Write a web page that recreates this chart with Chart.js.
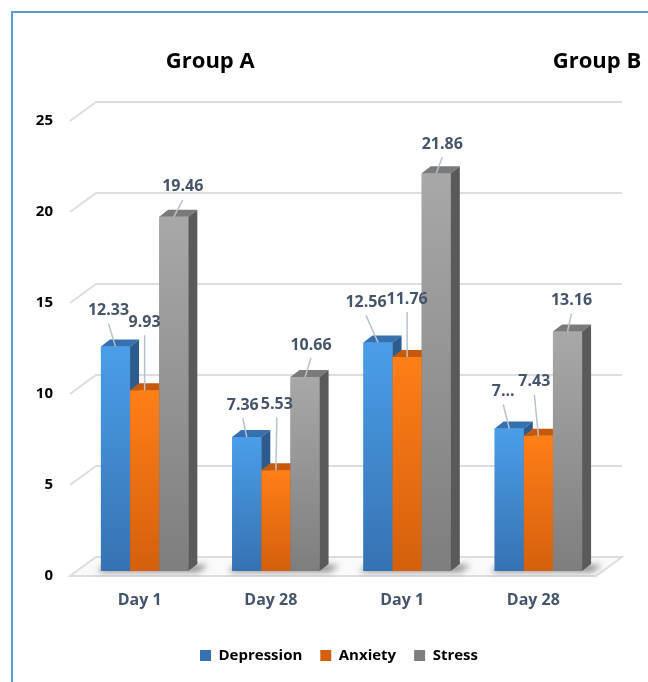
<!DOCTYPE html>
<html>
<head>
<meta charset="utf-8">
<title>Depression, Anxiety and Stress</title>
<script src="https://cdn.jsdelivr.net/npm/chart.js@4.4.1/dist/chart.umd.min.js"></script>
<style>
  html, body { margin: 0; padding: 0; background: #fff; }
  #wrap { position: relative; width: 648px; height: 682px; overflow: hidden; }
  #frame {
    position: absolute; left: 11px; top: 11px; right: -4px; bottom: -4px;
    border-left: 2px solid #5B9BD5; border-top: 2px solid #5B9BD5;
    pointer-events: none;
  }
  canvas { position: absolute; left: 0; top: 0; }
</style>
</head>
<body>
<div id="wrap">
  <canvas id="scoresChart" width="648" height="682"></canvas>
  <div id="frame"></div>
</div>
<script>
// chart data
const categories = ["Day 1", "Day 28", "Day 1", "Day 28"];
const groupNames = ["Group A", "Group B"];
const depression = [12.33, 7.36, 12.56, 7.83];
const anxiety = [9.93, 5.53, 11.76, 7.43];
const stress = [19.46, 10.66, 21.86, 13.16];
const yTicks = [0, 5, 10, 15, 20, 25];

// the original chart cut one label short
const shownText = { "0-3": "7..." };

const FONT = "'Open Sans', Lato, sans-serif";
const DEPTH_X = 9;
const DEPTH_Y = -7;

// face colours: front gradient top/bottom, top face, side face
const faces = [
  { top: "#4A9EE9", bottom: "#3672B2", lid: "#3471AE", side: "#2C5C8E" },
  { top: "#FF7E17", bottom: "#D4600D", lid: "#C75A0A", side: "#AA4D07" },
  { top: "#A8A8A8", bottom: "#7E7E7E", lid: "#7A7A7A", side: "#5A5A5A" },
];

// label nudges (px from the top-centre of each bar front)
const labelNudge = [
  [[-7, -36], [-4, -32], [-12, -40], [-6, -37]],
  [[0, -68], [1, -66], [0, -58], [-4, -54]],
  [[9, -30], [6, -32], [6, -29], [4, -31]],
];

// gradient runs from the bar's own top to the baseline
function frontGradient(c, i) {
  const y = c.chart.scales.y;
  if (!y || c.raw == null) return faces[i].top;
  const top = y.getPixelForValue(c.raw);
  const base = y.getPixelForValue(0);
  const g = c.chart.ctx.createLinearGradient(0, top, 0, base);
  g.addColorStop(0, faces[i].top);
  g.addColorStop(1, faces[i].bottom);
  return g;
}

const wallsPlugin = {
  id: "walls",
  // back wall gridlines, left wall and floor
  beforeDatasetsDraw(chart) {
    const { ctx, chartArea, scales } = chart;
    const y = scales.y;
    const fx = -9, fy = 5, bx = 17, by = -14, rx = 18;
    ctx.save();
    ctx.strokeStyle = "#DADEE4";
    ctx.lineWidth = 2;

    const b0 = y.getPixelForValue(0);
    ctx.beginPath();
    ctx.moveTo(chartArea.left + fx, b0 + fy);
    ctx.lineTo(chartArea.right + fx + 1, b0 + fy);
    ctx.lineTo(chartArea.right + rx, b0 + by);
    ctx.lineTo(chartArea.left + bx, b0 + by);
    ctx.closePath();
    ctx.fillStyle = "#FAFAFA";
    ctx.fill();
    ctx.stroke();

    yTicks.forEach((v) => {
      if (v === 0) return;
      const p = y.getPixelForValue(v);
      ctx.beginPath();
      ctx.moveTo(chartArea.left + fx, p + fy);
      ctx.lineTo(chartArea.left + bx, p + by);
      ctx.lineTo(chartArea.right + rx, p + by);
      ctx.stroke();
    });

    // soft shadows under each cluster
    const first = chart.getDatasetMeta(0).data;
    const last = chart.getDatasetMeta(2).data;
    ctx.filter = "blur(3px)";
    ctx.fillStyle = "rgba(0,0,0,0.45)";
    first.forEach((bar, i) => {
      const l = bar.x - bar.width / 2;
      const g = last[i];
      const r = g.x + g.width / 2;
      const base = g.base;
      ctx.beginPath();
      ctx.moveTo(l - 4, base + 1);
      ctx.lineTo(r + 10, base + 1);
      ctx.lineTo(r + 20, base - 6);
      ctx.lineTo(l + 4, base - 6);
      ctx.closePath();
      ctx.fill();
    });
    ctx.restore();
  },

  afterDatasetsDraw(chart) {
    const { ctx, chartArea } = chart;

    // redraw bars left to right so each one hides the side of its neighbour
    ctx.save();
    chart.data.datasets.forEach((ds, di) => {
      const f = faces[di];
      chart.getDatasetMeta(di).data.forEach((bar) => {
        bar.draw(ctx, chartArea);
        const { x, y, base, width } = bar.getProps(["x", "y", "base", "width"], true);
        const l = x - width / 2;
        const r = x + width / 2;
        ctx.fillStyle = f.lid;
        ctx.beginPath();
        ctx.moveTo(l, y);
        ctx.lineTo(l + DEPTH_X, y + DEPTH_Y);
        ctx.lineTo(r + DEPTH_X, y + DEPTH_Y);
        ctx.lineTo(r, y);
        ctx.closePath();
        ctx.fill();

        ctx.fillStyle = f.side;
        ctx.beginPath();
        ctx.moveTo(r, y);
        ctx.lineTo(r + DEPTH_X, y + DEPTH_Y);
        ctx.lineTo(r + DEPTH_X, base + DEPTH_Y);
        ctx.lineTo(r, base);
        ctx.closePath();
        ctx.fill();
      });
    });
    ctx.restore();
  },

  // value labels with leader lines, and group titles
  afterDraw(chart) {
    const { ctx, chartArea, scales } = chart;
    ctx.save();
    ctx.font = "bold 16px " + FONT;
    ctx.textAlign = "center";
    ctx.textBaseline = "middle";
    chart.data.datasets.forEach((ds, di) => {
      chart.getDatasetMeta(di).data.forEach((bar, i) => {
        const [dx, dy] = labelNudge[di][i];
        const tx = bar.x + dx;
        const ty = bar.y + dy;
        ctx.strokeStyle = "#B7C2D0";
        ctx.lineWidth = 1.5;
        ctx.beginPath();
        ctx.moveTo(tx, ty + 13);
        ctx.lineTo(bar.x, bar.y);
        ctx.stroke();
        const txt = shownText[di + "-" + i] || ds.data[i].toFixed(2);
        ctx.fillStyle = "#44546A";
        ctx.fillText(txt, tx, ty);
      });
    });

    ctx.fillStyle = "#000";
    ctx.font = "bold 22px " + FONT;
    const x = scales.x;
    const ax = (x.getPixelForValue(0) + x.getPixelForValue(1)) / 2;
    ctx.fillText(groupNames[0], ax, 62);
    ctx.fillText(groupNames[1], chartArea.right - 7, 62);
    ctx.restore();
  },
};

new Chart(document.getElementById("scoresChart"), {
  type: "bar",
  data: {
    labels: categories,
    datasets: [
      { label: "Depression", data: depression, backgroundColor: (c) => frontGradient(c, 0) },
      { label: "Anxiety", data: anxiety, backgroundColor: (c) => frontGradient(c, 1) },
      { label: "Stress", data: stress, backgroundColor: (c) => frontGradient(c, 2) },
    ],
  },
  options: {
    responsive: false,
    animation: false,
    events: [],
    layout: { padding: { left: 30, right: 0, top: 116, bottom: 9 } },
    datasets: {
      bar: { categoryPercentage: 0.666, barPercentage: 1, borderWidth: 0 },
    },
    plugins: {
      tooltip: { enabled: false },
      legend: {
        position: "bottom",
        labels: {
          boxWidth: 11,
          boxHeight: 11,
          padding: 18,
          color: "#1A1A1A",
          font: { family: FONT, size: 15, weight: "bold" },
          generateLabels: (chart) =>
            chart.data.datasets.map((ds, i) => ({
              text: ds.label,
              fillStyle: faces[i].bottom,
              strokeStyle: faces[i].bottom,
              lineWidth: 0,
              datasetIndex: i,
            })),
        },
      },
    },
    scales: {
      x: {
        grid: { display: false, drawTicks: false },
        border: { display: false },
        ticks: {
          color: "#44546A",
          padding: 20,
          labelOffset: -5,
          font: { family: FONT, size: 16, weight: "bold" },
        },
        afterFit: (s) => { s.height = 59; },
      },
      y: {
        min: 0,
        max: 25,
        grid: { display: false, drawTicks: false },
        border: { display: false },
        afterBuildTicks: (s) => { s.ticks = yTicks.map((v) => ({ value: v })); },
        ticks: {
          color: "#000",
          padding: 26,
          labelOffset: 5,
          font: { family: FONT, size: 15, weight: "bold" },
        },
        afterFit: (s) => { s.width = 49; },
      },
      // empty right-hand axis only reserves room for the 3-D depth
      y2: {
        position: "right",
        grid: { display: false, drawTicks: false },
        border: { display: false },
        ticks: { display: false },
        afterFit: (s) => { s.width = 44; },
      },
    },
  },
  plugins: [wallsPlugin],
});
</script>
</body>
</html>
